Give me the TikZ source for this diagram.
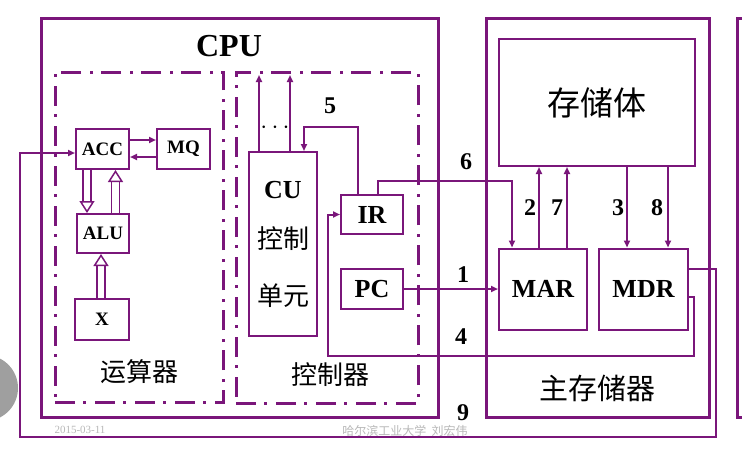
\documentclass[tikz,border=0pt]{standalone}
\usepackage{fontspec}
\setmainfont{Liberation Serif}
\newfontfamily\cjk{Noto Sans CJK SC}
\usetikzlibrary{positioning,arrows.meta}
\definecolor{pp}{RGB}{122,22,122}
\newcommand{\fs}[1]{\fontsize{#1}{#1}\selectfont}

\begin{document}
\begin{tikzpicture}[x=1pt,y=-1pt,
        outer/.style={rectangle,draw=pp,line width=3pt,inner sep=0pt},
        unit/.style={rectangle,draw=pp,line width=3pt,inner sep=0pt,dash pattern=on 20pt off 8pt on 3pt off 9pt},
        reg/.style={rectangle,draw=pp,line width=2pt,inner sep=0pt,font=\bfseries\fs{19}},
        bigreg/.style={reg,font=\bfseries\fs{26}},
        cn/.style={font=\cjk\fs{26}},
        num/.style={font=\bfseries\fs{24}},
        wire/.style={draw=pp,line width=2pt},
        arrow/.style={wire,-{Triangle[length=7pt,width=6pt]}},
        hollow/.style={draw=pp,line width=1.5pt,double=white,double distance=6.5pt,-{Triangle[open,length=12pt,width=15pt]}},
        foot/.style={text=gray!55,font=\fs{11}}]
        \useasboundingbox (0,0) rectangle (742,453);
        \clip (0,0) rectangle (742,453);
        \fill[white] (0,0) rectangle (742,453);
        \fill[gray!75] (-15,388) circle (33);
        % CPU side
        \node[outer,minimum width=397pt,minimum height=399pt] (cpu) at (239.5,217.5) {};
        \node[font=\bfseries\fs{32}] (cputxt) at (229,46) {CPU};
        \node[unit,minimum width=168pt,minimum height=330pt] (aluunit) at (139,237) {};
        \node[unit,minimum width=182pt,minimum height=331pt] (ctrlunit) at (327,237.5) {};
        \node[reg,minimum width=53pt,minimum height=40pt] (acc) at (102.5,149) {ACC};
        \node[reg,minimum width=53pt,minimum height=40pt] (mq) at (183.5,149) {MQ};
        \node[reg,minimum width=52pt,minimum height=39pt] (alu) at (103,233.5) {ALU};
        \node[reg,minimum width=54pt,minimum height=41pt] (x) at (102,319.5) {X};
        \node[cn] (yunsuan) at (139,372) {运算器};
        \node[bigreg,minimum width=68pt,minimum height=184pt,align=center] (cu) at (283,244)
            {CU\\[24pt]{\cjk\mdseries 控制}\\[31pt]{\cjk\mdseries 单元}};
        \node[bigreg,minimum width=62pt,minimum height=39pt] (ir) at (372,214.5) {IR};
        \node[bigreg,minimum width=62pt,minimum height=40pt] (pc) at (372,289) {PC};
        \node[cn] (kongzhi) at (330,375) {控制器};
        \node[font=\fs{28}] (dots) at (275,128) {$\cdots$};
        % main memory side
        \node[outer,minimum width=223pt,minimum height=399pt] (mm) at (597.5,217.5) {};
        \node[reg,minimum width=196pt,minimum height=127pt,font=\cjk\fs{33}] (mem) at (597,102.5) {存储体};
        \node[bigreg,minimum width=88pt,minimum height=81pt] (mar) at (543,289) {MAR};
        \node[bigreg,minimum width=89pt,minimum height=81pt] (mdr) at (643.5,289) {MDR};
        \node[cn,font=\cjk\fs{29}] (zhucun) at (597,388) {主存储器};
        \node[outer,minimum width=60pt,minimum height=399pt] (next) at (767,217.5) {};
        % bend points
        \coordinate (cuout) at (283,75);
        \coordinate (c5) at (304,127);
        \coordinate (c6) at (512,181);
        \coordinate (c4r) at (694,356);
        \coordinate (c4l) at (328,356);
        \coordinate (c9r) at (716,437);
        \coordinate (c9l) at (20,437);
        % arithmetic unit
        \draw[arrow] ([yshift=9pt]acc.east) -- ([yshift=9pt]mq.west);
        \draw[arrow] ([yshift=-8pt]mq.west) -- ([yshift=-8pt]acc.east);
        \draw[hollow] ([xshift=-15.5pt]acc.south) -- ([xshift=-15.5pt]acc.south |- alu.north);
        \draw[hollow] ([xshift=12.5pt]alu.north) -- ([xshift=12.5pt]alu.north |- acc.south);
        \draw[hollow] ([xshift=-1pt]x.north) -- ([xshift=-1pt]x.north |- alu.south);
        % control unit
        \draw[arrow] ([xshift=-24pt]cu.north) -- ([xshift=-24pt]cu.north |- cuout);
        \draw[arrow] ([xshift=7pt]cu.north) -- ([xshift=7pt]cu.north |- cuout);
        \draw[arrow] ([xshift=-14pt]ir.north) |- (c5) -- (c5 |- cu.north);
        % buses
        \draw[arrow] ([xshift=6pt]ir.north) |- (c6) -- (c6 |- mar.north);
        \draw[arrow] (pc.east) -- (pc.east -| mar.west);
        \draw[arrow] ([yshift=-7.5pt]mdr.east) -| (c4r) -- (c4l) |- (ir.west);
        \draw[arrow] ([yshift=20.5pt]mdr.east) -| (c9r) -- (c9l) |- ([yshift=-4pt]acc.west);
        \draw[arrow] ([xshift=-4pt]mar.north) -- ([xshift=-4pt]mar.north |- mem.south);
        \draw[arrow] ([xshift=24pt]mar.north) -- ([xshift=24pt]mar.north |- mem.south);
        \draw[arrow] ([xshift=-16.5pt]mdr.north |- mem.south) -- ([xshift=-16.5pt]mdr.north);
        \draw[arrow] ([xshift=24.5pt]mdr.north |- mem.south) -- ([xshift=24.5pt]mdr.north);
        % step numbers
        \node[num] (n5) at (330,106) {5};
        \node[num] (n6) at (466,162) {6};
        \node[num] (n1) at (463,275) {1};
        \node[num] (n4) at (461,337) {4};
        \node[num] (n9) at (463,413) {9};
        \node[num] (n2) at (530,208) {2};
        \node[num] (n7) at (557,208) {7};
        \node[num] (n3) at (618,208) {3};
        \node[num] (n8) at (657,208) {8};
        % footer
        \node[foot] (date) at (80,430) {2015-03-11};
        \node[foot,font=\cjk\fs{12}] (src) at (405,431) {哈尔滨工业大学\ \ 刘宏伟};
    \end{tikzpicture}
\end{document}
